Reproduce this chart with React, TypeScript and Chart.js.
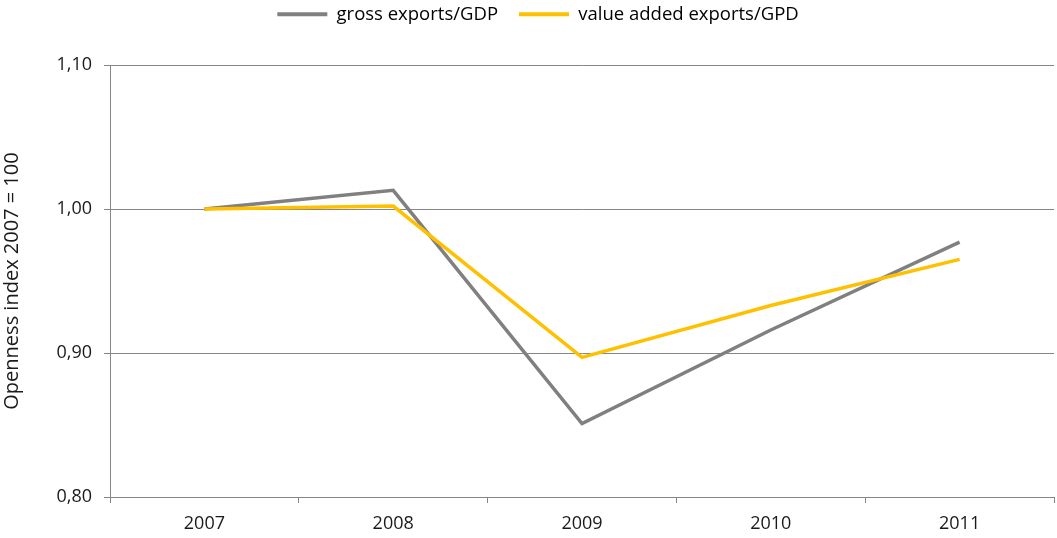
import React, { useEffect, useRef } from "react";
import { Chart, registerables } from "chart.js";

Chart.register(...registerables);

const years = ["2007", "2008", "2009", "2010", "2011"];
const grossExports = [1.0, 1.013, 0.851, 0.916, 0.977];
const valueAddedExports = [1.0, 1.002, 0.897, 0.933, 0.965];
const seriesNames = ["gross exports/GDP", "value added exports/GPD"];
const seriesColors = ["#808080", "#FFC000"];
const yAxisTitle = "Openness index 2007 = 100";
const yMin = 0.8;
const yMax = 1.1;
const yStep = 0.1;

const FONT = "'Open Sans', 'Noto Sans', sans-serif";
const TEXT = "#1a1a1a";
const AXIS = "#868686";

export default function App() {
  const ref = useRef<HTMLCanvasElement | null>(null);

  useEffect(() => {
    if (!ref.current) return;
    const legendTweak = {
      id: "legendTweak",
      beforeInit(chart: any) {
        const lg = chart.legend;
        const origFit = lg.fit;
        lg.fit = function () {
          origFit.call(lg);
          this.height = 65;
        };
        const origDraw = lg.draw;
        lg.draw = function () {
          const ctx = chart.ctx;
          ctx.save();
          ctx.translate(11, -16);
          origDraw.call(lg);
          ctx.restore();
        };
      },
    };
    const chart = new Chart(ref.current, {
      type: "line",
      data: {
        labels: years,
        datasets: [
          {
            label: seriesNames[0],
            data: grossExports,
            borderColor: seriesColors[0],
            backgroundColor: seriesColors[0],
            borderWidth: 3.5,
            pointRadius: 0,
            tension: 0,
            order: 1,
          },
          {
            label: seriesNames[1],
            data: valueAddedExports,
            borderColor: seriesColors[1],
            backgroundColor: seriesColors[1],
            borderWidth: 3.5,
            pointRadius: 0,
            tension: 0,
            order: 0,
          },
        ],
      },
      options: {
        responsive: false,
        animation: false,
        layout: { padding: { left: 0, right: 3, top: 0, bottom: 0 } },
        plugins: {
          tooltip: { enabled: false },
          legend: {
            position: "top",
            labels: {
              font: { family: FONT, size: 18.5 },
              color: TEXT,
              boxWidth: 50,
              boxHeight: 4,
              padding: 21,
              generateLabels: () =>
                seriesNames.map((n, i) => ({
                  text: n,
                  fillStyle: seriesColors[i],
                  strokeStyle: seriesColors[i],
                  lineWidth: 0,
                  hidden: false,
                  datasetIndex: i,
                })),
            },
          },
        },
        scales: {
          x: {
            offset: true,
            grid: {
              offset: true,
              drawOnChartArea: false,
              drawTicks: true,
              tickLength: 6,
              color: AXIS,
            },
            border: { color: AXIS, width: 1 },
            ticks: {
              font: { family: FONT, size: 18 },
              color: TEXT,
              padding: 10,
              maxRotation: 0,
            },
            afterFit: (s: any) => {
              s.height = 41;
            },
          },
          y: {
            min: yMin,
            max: yMax,
            grid: {
              color: AXIS,
              tickLength: 6,
              drawTicks: true,
            },
            border: { color: AXIS, width: 1 },
            ticks: {
              stepSize: yStep,
              font: { family: FONT, size: 18 },
              color: TEXT,
              padding: 12,
              callback: (v: any) => Number(v).toFixed(2).replace(".", ","),
            },
            title: {
              display: true,
              text: yAxisTitle,
              font: { family: FONT, size: 20 },
              color: TEXT,
              padding: { top: 0, bottom: 0 },
            },
            afterFit: (s: any) => {
              s.width = 110;
            },
          },
        },
      },
      plugins: [legendTweak],
    });
    return () => chart.destroy();
  }, []);

  return (
    <div style={{ position: "absolute", left: 0, top: 0, width: 1057, height: 538, background: "#fff" }}>
      <canvas ref={ref} width={1057} height={538} />
    </div>
  );
}
